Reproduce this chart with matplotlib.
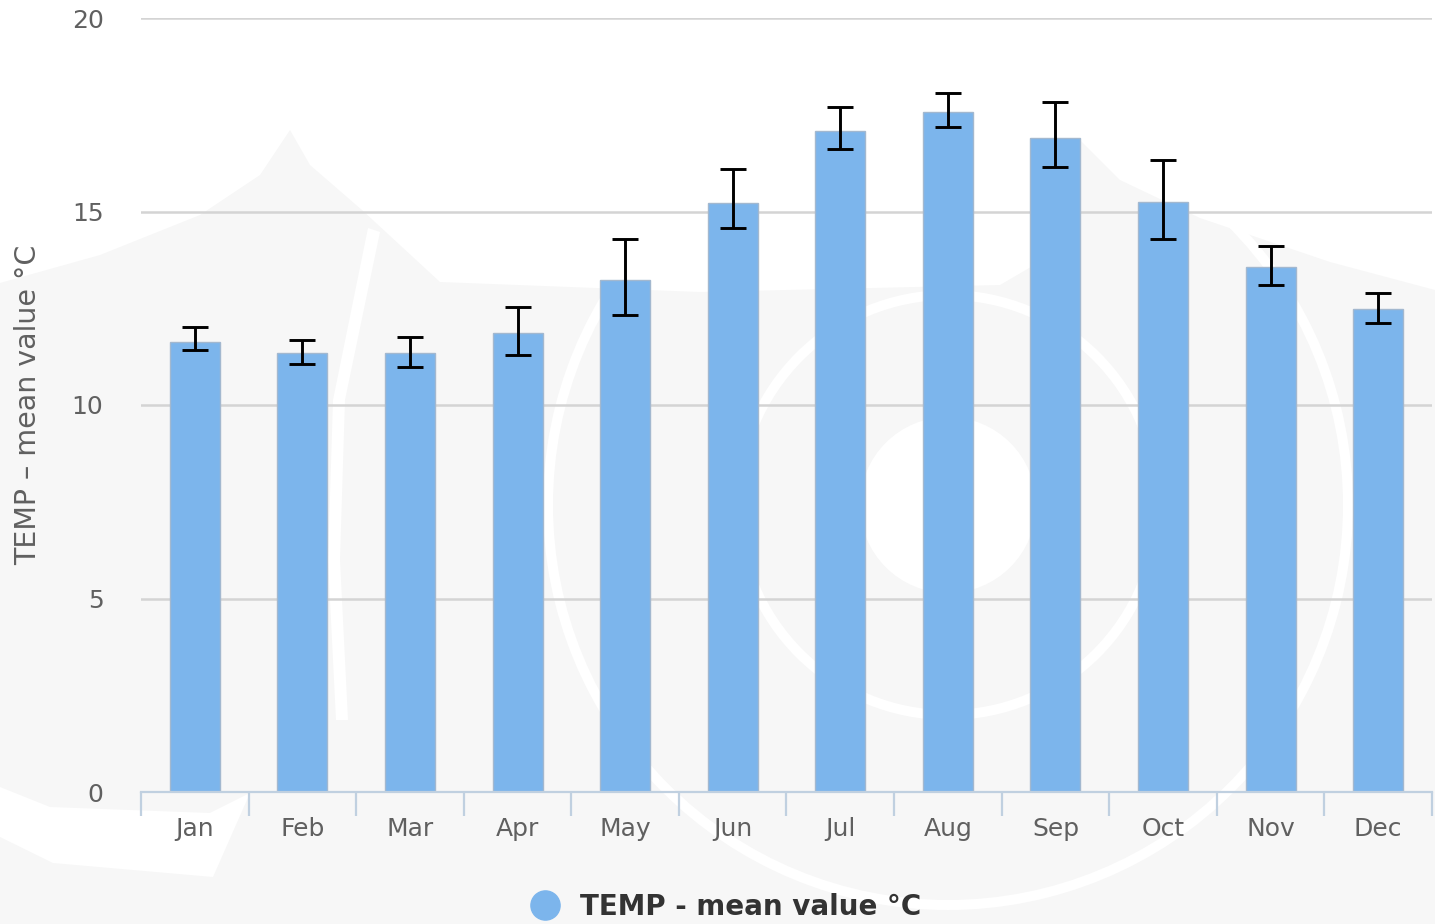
import matplotlib
matplotlib.use("Agg")
import matplotlib.pyplot as plt
from matplotlib.patches import Polygon, Circle
from matplotlib.lines import Line2D
import numpy as np

months = ["Jan", "Feb", "Mar", "Apr", "May", "Jun", "Jul", "Aug", "Sep", "Oct", "Nov", "Dec"]
temp_mean = [11.64, 11.34, 11.34, 11.85, 13.24, 15.23, 17.08, 17.58, 16.89, 15.24, 13.57, 12.47]
err_low = [11.43, 11.05, 10.98, 11.30, 12.32, 14.58, 16.61, 17.18, 16.16, 14.30, 13.10, 12.13]
err_high = [12.02, 11.68, 11.76, 12.52, 14.30, 16.09, 17.69, 18.07, 17.82, 16.34, 14.11, 12.90]
yticks = [0, 5, 10, 15, 20]
series_name = "TEMP – mean value °C"
legend_name = "TEMP - mean value °C"

W, H = 1435, 924
fig = plt.figure(figsize=(W / 100, H / 100), dpi=100)
fig.patch.set_facecolor("#f7f7f7")

# faint watermark-like background shapes (pixel coords, origin bottom-left)
def P(pts):
    return [(x, H - y) for x, y in pts]

top_white = P([(0, 0), (1435, 0), (1435, 290), (1330, 262), (1200, 218), (1120, 180), (1080, 140),
               (1060, 250), (1000, 285), (700, 292), (440, 282), (362, 210), (310, 165), (290, 130),
               (260, 175), (200, 215), (100, 255), (0, 283)])
fig.patches.append(Polygon(top_white, closed=True, transform=None, facecolor="white",
                           edgecolor="none", zorder=-10))
for r, lw in [(400, 10), (210, 10)]:
    fig.patches.append(Circle((948, H - 505), r, transform=None, facecolor="none",
                              edgecolor="white", linewidth=lw * 0.72, zorder=-9))
fig.patches.append(Circle((948, H - 505), 88, transform=None, facecolor="white",
                          edgecolor="none", zorder=-9))
stripe = P([(368, 228), (380, 232), (345, 400), (340, 560), (348, 720), (336, 720), (328, 560),
            (333, 400)])
fig.patches.append(Polygon(stripe, closed=True, transform=None, facecolor="white",
                           edgecolor="none", zorder=-9))
wedge = P([(0, 787), (50, 807), (210, 813), (250, 793), (213, 877), (53, 863), (0, 837)])
fig.patches.append(Polygon(wedge, closed=True, transform=None, facecolor="white",
                           edgecolor="none", zorder=-9))

ax = fig.add_axes([141 / W, 1 - 792 / H, (1432 - 141) / W, (792 - 18) / H])
ax.set_facecolor("none")

x = np.arange(len(months))
lower = np.array(temp_mean) - np.array(err_low)
upper = np.array(err_high) - np.array(temp_mean)

ax.bar(x, temp_mean, width=0.465, color="#7cb5ec", edgecolor="#a3b8cf", linewidth=1.0, zorder=3)
ax.errorbar(x, temp_mean, yerr=[lower, upper], fmt="none", ecolor="black",
            elinewidth=2.1, capsize=9.7, capthick=2.1, zorder=4)

ax.set_xlim(-0.5, len(months) - 0.5)
ax.set_ylim(0, 20)
ax.set_yticks(yticks)
ax.set_yticklabels([str(t) for t in yticks])
ax.yaxis.grid(True, color="#d4d4d4", linewidth=1.8, zorder=0)
ax.set_axisbelow(True)

for s in ["top", "right", "left"]:
    ax.spines[s].set_visible(False)
ax.spines["bottom"].set_color("#c0d0e0")
ax.spines["bottom"].set_linewidth(1.6)
ax.spines["bottom"].set_zorder(5)

ax.set_xticks(x)
ax.set_xticklabels(months)
ax.set_xticks(np.arange(-0.5, len(months), 1.0), minor=True)
ax.tick_params(axis="x", which="major", length=0, pad=18, labelsize=18, labelcolor="#606060")
ax.tick_params(axis="x", which="minor", length=17, width=1.6, color="#c0d0e0")
ax.tick_params(axis="y", length=0, pad=27, labelsize=18, labelcolor="#606060")

ax.set_ylabel(series_name, fontsize=20.5, color="#606060")
ax.yaxis.set_label_coords((42 - 141) / (1432 - 141), 0.5)

handle = Line2D([], [], marker="o", linestyle="none", markersize=21,
                markerfacecolor="#7cb5ec", markeredgecolor="#7cb5ec")
leg = fig.legend([handle], [legend_name], loc="center", bbox_to_anchor=(0.501, 1 - 907 / H),
                 frameon=False, handletextpad=0.25, prop={"size": 20, "weight": "bold"})
for t in leg.get_texts():
    t.set_color("#333333")

fig.savefig("out.png", dpi=100, facecolor=fig.get_facecolor())
